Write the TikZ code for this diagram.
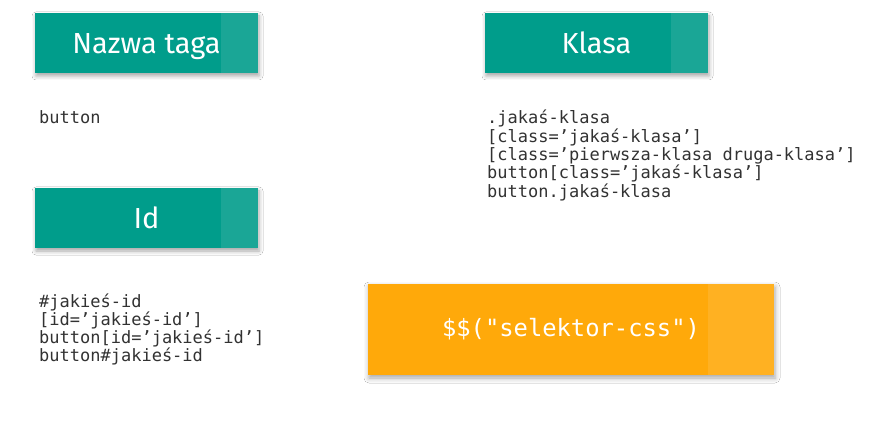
\documentclass[tikz,border=0pt]{standalone}
\usepackage{fontspec}
\setmainfont{Open Sans}
\newfontfamily\titlefont{Fira Sans}
\newfontfamily\codefont{DejaVu Sans Mono}
\usetikzlibrary{shadows.blur,calc}
\definecolor{tealbox}{RGB}{0,157,139}
\definecolor{orangebox}{RGB}{255,169,10}
\definecolor{codegray}{RGB}{50,50,50}
\tikzset{
  titlebox/.style={fill=tealbox, minimum width=223pt, minimum height=60pt, inner sep=0pt,
    text=white, font=\titlefont\fontsize{29}{32}\selectfont, text height=21pt, text depth=0pt,
    blur shadow={shadow xshift=1pt, shadow yshift=-3pt, shadow blur radius=4pt, shadow opacity=35}},
  selbox/.style={fill=orangebox, minimum width=406pt, minimum height=91pt, inner sep=0pt,
    text=white, font=\codefont\fontsize{23.8}{26}\selectfont,
    blur shadow={shadow xshift=1pt, shadow yshift=-3pt, shadow blur radius=5pt, shadow opacity=35}},
  codetext/.style={anchor=base west, inner sep=0pt, align=left, text=codegray,
    font=\codefont\fontsize{17}{18.3}\selectfont},
  sheen/.style={fill=white, fill opacity=0.1}
}
\begin{document}
\begin{tikzpicture}[x=1pt,y=-1pt]
\useasboundingbox (0,0) rectangle (892,435);
\fill[white] (0,0) rectangle (892,435);

\node[titlebox] (tag) at (146.5,43) {Nazwa taga};
\fill[sheen] ($(tag.north east)+(-37,0)$) rectangle (tag.south east);

\node[titlebox] (klasa) at (596.5,43) {Klasa};
\fill[sheen] ($(klasa.north east)+(-37,0)$) rectangle (klasa.south east);

\node[titlebox] (id) at (146.5,218) {Id};
\fill[sheen] ($(id.north east)+(-37,0)$) rectangle (id.south east);

\node[selbox] (sel) at (571,329.5) {\$\$("selektor-css")};
\fill[sheen] ($(sel.north east)+(-66,0)$) rectangle (sel.south east);

\node[codetext] (tagcode) at (39,124) {button};

\node[codetext] (klasacode) at (487,197.2) {.jakaś-klasa\\
{[}class=’jakaś-klasa’]\\
{[}class=’pierwsza-klasa druga-klasa’]\\
button[class=’jakaś-klasa’]\\
button.jakaś-klasa};

\node[codetext] (idcode) at (39,362) {\#jakieś-id\\
{[}id=’jakieś-id’]\\
button[id=’jakieś-id’]\\
button\#jakieś-id};
\end{tikzpicture}
\end{document}
